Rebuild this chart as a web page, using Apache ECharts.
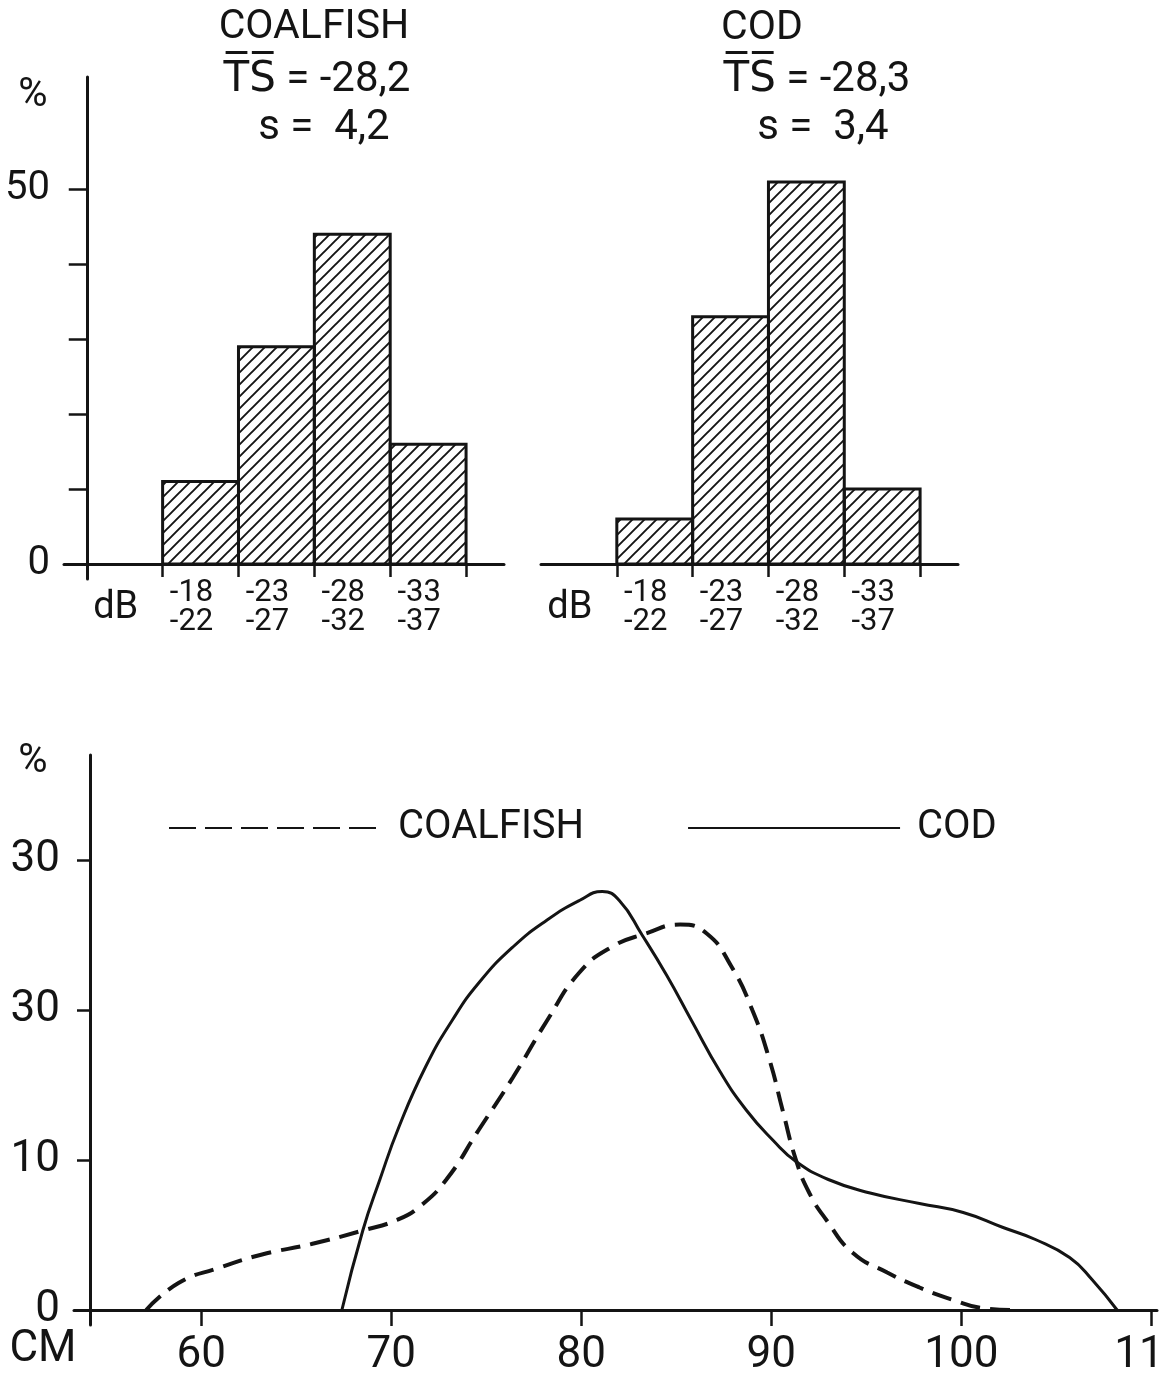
<!DOCTYPE html>
<html>
<head>
<meta charset="utf-8">
<script src="https://cdn.jsdelivr.net/npm/echarts@6/dist/echarts.min.js"></script>
<style>
  html, body { margin: 0; background: #fff; }
  #main { width: 1160px; height: 1376px; }
</style>
</head>
<body>
<div id="main"></div>
<script>
// target strength classes (dB) and share of fish in each class (%)
const dbClasses = ['-18\n-22', '-23\n-27', '-28\n-32', '-33\n-37'];
const coalfishTS = [11, 29, 44, 16];
const codTS = [6, 33, 51, 10];
const tsTicks = [0, 10, 20, 30, 40, 50];
const tsLabelValues = [0, 50];

// length distributions: length (cm) and share (%)
const coalfishLen = [57.1, 58.8, 60.9, 63.2, 65.8, 68.5, 70.3, 71.5, 72.9, 74.6, 76.4, 78.2, 79.9, 81.6, 83.4, 85.2, 86.6, 87.9, 89.0, 89.9, 90.6, 91.3, 92.0, 92.9, 94.3, 96.1, 97.8, 99.5, 101.3, 102.7];
const coalfishPct = [0, 1.8, 2.8, 3.7, 4.4, 5.3, 6.0, 6.9, 8.7, 12.0, 15.5, 19.3, 22.5, 24.2, 25.1, 25.7, 25.1, 22.9, 20.0, 16.7, 13.3, 10.0, 7.8, 6.0, 3.8, 2.5, 1.5, 0.7, 0.1, 0];
const codLen = [67.4, 68.5, 69.4, 70.4, 71.8, 73.2, 74.6, 76.4, 78.2, 79.9, 81.1, 82.0, 83.2, 84.5, 85.8, 87.3, 88.7, 90.1, 91.3, 93.0, 95.2, 97.8, 100.1, 102.2, 103.9, 105.7, 106.9, 108.2];
const codPct = [0, 5.3, 8.7, 12.2, 16.2, 19.3, 21.8, 24.2, 26.0, 27.3, 27.9, 27.3, 25.0, 22.3, 19.3, 15.9, 13.3, 11.3, 9.9, 8.7, 7.8, 7.1, 6.5, 5.5, 4.7, 3.5, 2.0, 0];
const lenTicks = [60, 70, 80, 90, 100, 110];
const pctTicks = [0, 10, 20, 30];
const pctLabels = ['0', '10', '30', '30'];

const INK = '#141414';
const FONT = 'Roboto, "DejaVu Sans", sans-serif';

// hatch tile for the histogram bars
function makeHatch(step, width) {
    const c = document.createElement('canvas');
    c.width = c.height = step;
    const g = c.getContext('2d');
    g.strokeStyle = INK;
    g.lineWidth = width;
    g.lineCap = 'square';
    g.beginPath();
    g.moveTo(-1, step + 1); g.lineTo(step + 1, -1);
    g.moveTo(-2, 2); g.lineTo(2, -2);
    g.moveTo(step - 2, step + 2); g.lineTo(step + 2, step - 2);
    g.stroke();
    return c;
}
const hatch = { image: makeHatch(12, 1.9), repeat: 'repeat' };

function binData(values) {
    return values.map(function (v, i) { return [i + 1, v]; });
}
function pairs(xs, ys) {
    return xs.map(function (x, i) { return [x, ys[i]]; });
}

function renderBin(params, api) {
    const x = api.value(0), y = api.value(1);
    const p0 = api.coord([x, y]);
    const p1 = api.coord([x + 1, 0]);
    return {
        type: 'rect',
        shape: { x: p0[0], y: p0[1], width: p1[0] - p0[0], height: p1[1] - p0[1] },
        style: { fill: hatch, stroke: INK, lineWidth: 3 }
    };
}

function dbAxis(gridIndex, min) {
    return {
        gridIndex: gridIndex, type: 'value', min: min, max: 5.5,
        axisLine: { show: true, onZero: true, lineStyle: { color: INK, width: 3 } },
        axisTick: { show: true, length: 13, customValues: [1, 2, 3, 4, 5], lineStyle: { color: INK, width: 2.5 } },
        axisLabel: {
            customValues: [0.5, 1.5, 2.5, 3.5, 4.5],
            margin: 0, color: INK, fontFamily: FONT, fontSize: 31, lineHeight: 29,
            padding: [0, 18, 0, 0],
            formatter: function (v) {
                const i = Math.round(v - 0.5);
                return i === 0 ? '{u|dB}' : dbClasses[i - 1];
            },
            rich: { u: { fontSize: 38, lineHeight: 58, fontFamily: FONT, color: INK } }
        },
        splitLine: { show: false }
    };
}

function tsAxis(gridIndex, visible) {
    return {
        gridIndex: gridIndex, type: 'value', min: -2, max: 65, show: visible,
        axisLine: { show: true, onZero: true, lineStyle: { color: INK, width: 3 } },
        axisTick: { show: true, length: 18, customValues: tsTicks, lineStyle: { color: INK, width: 2.5 } },
        axisLabel: { customValues: tsLabelValues, margin: 14, color: INK, fontFamily: FONT, fontSize: 40 },
        splitLine: { show: false }
    };
}

function label(text, x, y, size, align) {
    return {
        type: 'text', x: x, y: y,
        style: { text: text, fill: INK, font: size + 'px ' + FONT, textAlign: align || 'center', textVerticalAlign: 'middle' }
    };
}

const chart = echarts.init(document.getElementById('main'), null, { renderer: 'canvas' });

chart.setOption({
    backgroundColor: '#fff',
    animation: false,
    textStyle: { fontFamily: FONT, color: INK },
    grid: [
        { left: 64, top: 77, width: 440, height: 502, outerBoundsMode: 'none', containLabel: false },
        { left: 541, top: 77, width: 417, height: 502, outerBoundsMode: 'none', containLabel: false },
        { left: 74, top: 755, width: 1083, height: 570, outerBoundsMode: 'none', containLabel: false }
    ],
    xAxis: [
        dbAxis(0, -0.3),
        dbAxis(1, 0),
        {
            gridIndex: 2, type: 'value', min: 53.3, max: 110.3,
            axisLine: { show: true, onZero: true, lineStyle: { color: INK, width: 3 } },
            axisTick: { show: true, length: 16, customValues: lenTicks, lineStyle: { color: INK, width: 2.5 } },
            axisLabel: { customValues: lenTicks, margin: 9, color: INK, fontFamily: FONT, fontSize: 44 },
            splitLine: { show: false }
        }
    ],
    yAxis: [
        tsAxis(0, true),
        tsAxis(1, false),
        {
            gridIndex: 2, type: 'value', min: -1, max: 37, offset: -16,
            axisLine: { show: true, onZero: false, lineStyle: { color: INK, width: 3 } },
            axisTick: { show: true, length: 13, customValues: pctTicks, lineStyle: { color: INK, width: 2.5 } },
            axisLabel: {
                customValues: pctTicks, margin: 30, color: INK, fontFamily: FONT, fontSize: 44,
                formatter: function (v) { return pctLabels[pctTicks.indexOf(v)]; }
            },
            splitLine: { show: false }
        }
    ],
    legend: {
        left: 163, top: 803,
        itemWidth: 212, itemHeight: 30, itemGap: 103,
        itemStyle: { opacity: 0 },
        textStyle: { fontSize: 40, color: INK, fontFamily: FONT, padding: [0, 0, 0, 12] },
        data: [
            { name: 'COALFISH', lineStyle: { type: [27, 9] } },
            { name: 'COD' }
        ]
    },
    series: [
        { type: 'custom', name: 'COALFISH TS', xAxisIndex: 0, yAxisIndex: 0, renderItem: renderBin, data: binData(coalfishTS) },
        { type: 'custom', name: 'COD TS', xAxisIndex: 1, yAxisIndex: 1, renderItem: renderBin, data: binData(codTS) },
        {
            type: 'line', name: 'COALFISH', xAxisIndex: 2, yAxisIndex: 2,
            data: pairs(coalfishLen, coalfishPct), smooth: 0.5, symbol: 'none',
            lineStyle: { color: INK, width: 4, type: [20, 10] }, itemStyle: { color: INK }
        },
        {
            type: 'line', name: 'COD', xAxisIndex: 2, yAxisIndex: 2,
            data: pairs(codLen, codPct), smooth: 0.5, symbol: 'none',
            lineStyle: { color: INK, width: 3 }, itemStyle: { color: INK }
        }
    ],
    graphic: [
        label('COALFISH', 314, 28, 41),
        label('T\u0305S\u0305 = -28,2', 317, 80, 42),
        label('s =  4,2', 324, 128, 42),
        label('COD', 762, 29, 41),
        label('T\u0305S\u0305 = -28,3', 817, 80, 42),
        label('s =  3,4', 823, 128, 42),
        label('%', 33, 96, 40),
        label('%', 33, 762, 40),
        label('CM', 43, 1350, 44)
    ]
});
</script>
</body>
</html>
